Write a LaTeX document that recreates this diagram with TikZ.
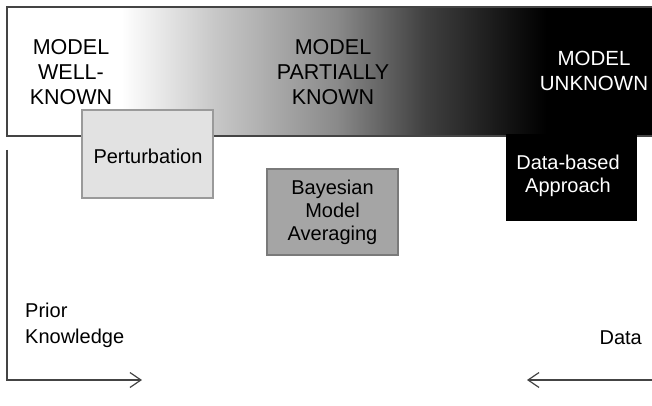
\documentclass[tikz,border=0pt]{standalone}
\usepackage{fontspec}
\setmainfont{Liberation Sans}
\usetikzlibrary{arrows.meta}
\definecolor{edgegray}{HTML}{444444}
\definecolor{pertfill}{HTML}{E2E2E2}
\definecolor{pertedge}{HTML}{9A9A9A}
\definecolor{bmafill}{HTML}{A5A5A5}
\definecolor{bmaedge}{HTML}{7A7A7A}
\pgfdeclarehorizontalshading{banner}{100bp}{color(0bp)=(white); color(33.76bp)=(white); color(40.97bp)=(black!22); color(50.27bp)=(black!46); color(57.02bp)=(black!75); color(63.22bp)=(black!92); color(66.32bp)=(black); color(100bp)=(black)}
\tikzset{
  bigtext/.style={align=center, font=\fontsize{21.5}{24.8}\selectfont, inner sep=0pt},
  boxtext/.style={align=center, font=\fontsize{20}{23}\selectfont, inner sep=0pt},
  methodbox/.style={draw, line width=1.2pt, inner sep=0pt},
  axisline/.style={draw=edgegray, line width=1.3pt},
  axisarrow/.style={axisline, -{Straight Barb[length=11pt, width=15pt, line width=1.2pt]}},
}
\begin{document}
\begin{tikzpicture}[x=1pt, y=-1pt]
\useasboundingbox (0,0) rectangle (652,406);
\clip (0,0) rectangle (652,406);
% banner
\path[shading=banner] (7,7) rectangle (660,136);
\draw[edgegray, line width=1.8pt] (660,7) -- (7,7) -- (7,136) -- (660,136);
% texts on banner
\node[bigtext] (wk) at (71,72) {MODEL\\WELL-\\KNOWN};
\node[bigtext] (pk) at (333,72) {MODEL\\PARTIALLY\\KNOWN};
\node[bigtext, text=white, font=\fontsize{20.5}{24.8}\selectfont] (uk) at (594,71) {MODEL\\UNKNOWN};
% method boxes
\node[methodbox, draw=pertedge, fill=pertfill, minimum width=131pt, minimum height=88pt] (pert) at (147.5,154) {};
\node[boxtext] (perttext) at (148,156) {Perturbation};
\node[methodbox, draw=bmaedge, fill=bmafill, minimum width=131pt, minimum height=86pt] (bma) at (332.5,212) {};
\node[boxtext] (bmatext) at (bma.center) {Bayesian\\Model\\Averaging};
\node[methodbox, draw=black, fill=black, minimum width=129pt, minimum height=85pt] (dba) at (571.5,177.5) {};
\node[boxtext, text=white] (dbatext) at (568,176) {Data-based\\Approach};
% axes
\coordinate (vtop) at (7,150);
\coordinate (origin) at (7,380);
\coordinate (priorend) at (142,380);
\coordinate (dataright) at (652,380);
\coordinate (dataend) at (527,380);
\draw[axisarrow] (vtop) -- (origin) -- (priorend);
\draw[axisarrow] (dataright) -- (dataend);
\node[boxtext, align=left, anchor=west, font=\fontsize{20}{26}\selectfont] (prior) at (25,325) {Prior\\Knowledge};
\node[boxtext, anchor=east] (data) at (642,338) {Data};
\end{tikzpicture}
\end{document}
